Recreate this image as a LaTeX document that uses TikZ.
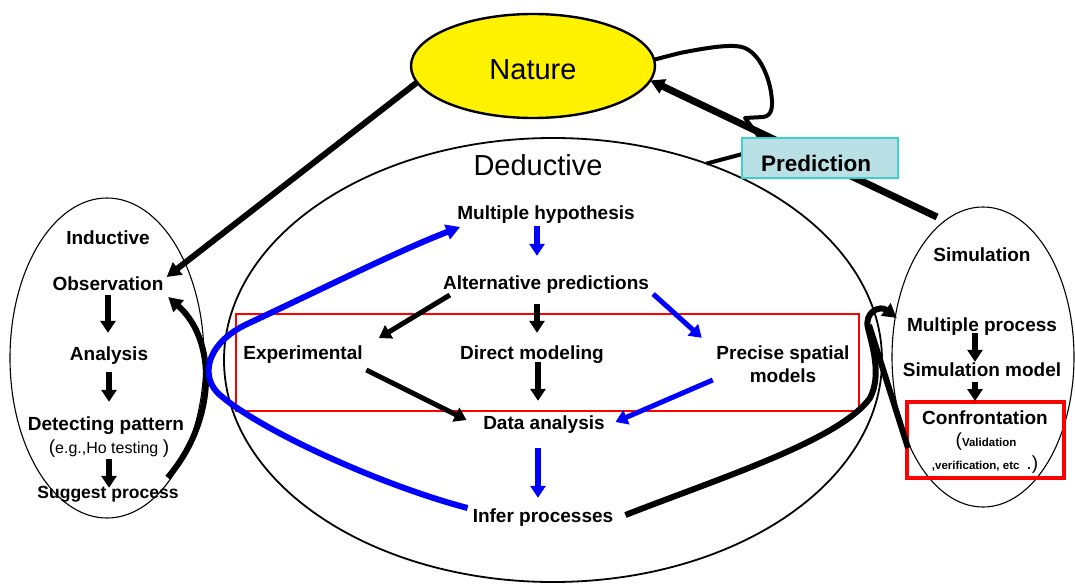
\documentclass[tikz,border=0pt]{standalone}
\usepackage{fontspec}
\setmainfont{Liberation Sans}
\usetikzlibrary{shapes.geometric,arrows.meta,calc}
\definecolor{predfill}{HTML}{B9E1E5}
\definecolor{predline}{HTML}{3FCFCF}
\definecolor{linkblue}{HTML}{0000FF}
\definecolor{framered}{HTML}{FF0000}
\begin{document}
\begin{tikzpicture}[x=1pt,y=-1pt,
  lbl/.style={font=\fontsize{19}{22}\selectfont\bfseries, inner sep=0pt, text height=13.6pt, text depth=0pt},
  bigtitle/.style={font=\fontsize{29}{32}\selectfont, inner sep=0pt},
  oval/.style={ellipse, draw, inner sep=0pt, outer sep=0pt},
  redframe/.style={draw=framered, inner sep=0pt, outer sep=0pt},
  blk/.style={line width=5.5pt, -{Triangle[length=12pt,width=15pt]}},
  blu/.style={blk, draw=linkblue, -{Triangle[length=12pt,width=15pt,fill=linkblue]}, color=linkblue},
  thickline/.style={line width=6pt, line join=round},
  tip/.style={-{Triangle[length=14pt,width=15pt]}}
]
\useasboundingbox (0,0) rectangle (1075,583);

% the three regions and the Nature oval
\node[oval, line width=1.8pt, minimum width=658pt, minimum height=444pt] (ded) at (553,360) {};
\node[oval, line width=1.1pt, minimum width=194pt, minimum height=320pt] (ind) at (107,358) {};
\node[oval, line width=1.1pt, minimum width=182pt, minimum height=300pt] (sim) at (983,357) {};
\node[oval, line width=2.4pt, fill=yellow, minimum width=244pt, minimum height=104pt,
      font=\fontsize{29}{32}\selectfont, text height=28pt, text depth=0pt] (nat) at (533,66) {Nature};

% red frames
\node[redframe, line width=2.2pt, minimum width=623pt, minimum height=97pt] (focus) at (547.5,362.5) {};
\node[redframe, line width=3.5pt, minimum width=157pt, minimum height=76pt] (confbox) at (985.5,440) {};

% titles
\node[bigtitle] (dedt) at (538,165) {Deductive};
\node[lbl] (indt) at (108,238) {Inductive};
\node[lbl] (simt) at (982,255) {Simulation};

% inductive column
\node[lbl] (obs) at (108,284) {Observation};
\node[lbl] (ana) at (109,354) {Analysis};
\node[lbl] (det) at (106,424) {Detecting pattern};
\node[inner sep=0pt, text height=11.5pt, text depth=0pt] (eg) at (109,448)
  {{\fontsize{19}{20}\selectfont(}{\fontsize{16}{18}\selectfont e.g.,Ho testing }{\fontsize{19}{20}\selectfont)}};
\node[lbl, font=\fontsize{17.5}{20}\selectfont\bfseries, text height=12.5pt] (sug) at (108,492) {Suggest process};

% deductive core
\node[lbl] (mh) at (546,213) {Multiple hypothesis};
\node[lbl] (alt) at (546,283) {Alternative predictions};
\node[lbl] (exp) at (303,353) {Experimental};
\node[lbl] (dm) at (532,353) {Direct modeling};
\node[lbl] (prec1) at (783,353) {Precise spatial};
\node[lbl] (prec2) at (783,376) {models};
\node[lbl] (da) at (544,423) {Data analysis};
\node[lbl] (inf) at (543,516) {Infer processes};

% simulation column
\node[lbl] (mp) at (982,325) {Multiple process};
\node[lbl] (sm) at (982,370) {Simulation model};
\node[lbl] (conft) at (985,418) {Confrontation};
\node[inner sep=0pt] (valid) at (986,442)
  {{\fontsize{19}{20}\selectfont(}{\fontsize{11.5}{13}\selectfont\bfseries Validation}};
\node[inner sep=0pt] (verif) at (985,465)
  {{\fontsize{11.5}{13}\selectfont\bfseries ,verification, etc}\hspace{7pt}{\fontsize{19}{20}\selectfont .)}};

% vertical step arrows
\draw[blk, shorten <=4.2pt, shorten >=14.2pt] (obs.south) -- (obs.south |- ana.north);
\draw[blk, shorten <=11.2pt, shorten >=15.2pt] (ana.south) -- (ana.south |- det.north);
\draw[blk, shorten <=5.2pt, shorten >=-2.2pt] (eg.south) -- (eg.south |- sug.north);
\draw[blu, shorten <=6.2pt, shorten >=20.2pt] ([xshift=-9pt]mh.south) -- ([xshift=-9pt]mh.south |- alt.north);
\draw[blk, shorten <=14.2pt, shorten >=13.2pt] ([xshift=-9pt]alt.south) -- ([xshift=-9pt]alt.south |- dm.north);
\draw[blk, shorten <=2.2pt, shorten >=15.2pt] ([xshift=6pt]dm.south) -- ([xshift=6pt]dm.south |- da.north);
\draw[blu, shorten <=18.2pt, shorten >=11.2pt] ([xshift=-6pt]da.south) -- ([xshift=-6pt]da.south |- inf.north);
\draw[blk, shorten <=1.2pt, shorten >=1.2pt] ([xshift=-7pt]mp.south) -- ([xshift=-7pt]mp.south |- sm.north);
\draw[blk, shorten <=5.2pt, shorten >=1pt] ([xshift=-7pt]sm.south) -- ([xshift=-7pt]sm.south |- confbox.north);

% diagonal arrows in the deductive core
\draw[blk, line width=5pt] ($(alt.south west)+(7,5)$) -- ($(exp.north east)+(16,-8)$);
\draw[blu, line width=5pt] ($(alt.south east)+(4,4)$) -- ($(prec1.north west)+(-14.5,-8.2)$);
\draw[blk, line width=5pt] ($(exp.south east)+(3.5,10)$) -- ($(da.west)+(-16.5,-3)$);
\draw[blu, line width=5pt] ($(prec1.south west)+(-3.5,20)$) -- ($(da.east)+(10.5,-1)$);

% Nature to observation, simulation back to Nature
\draw[thickline, tip] (nat.188) -- ($(obs.north east)+(3,0)$);
\draw[thickline, line width=7pt, tip] ($(sim.north)+(-46,10)$) -- (nat.-7);

% deductive loop through the prediction up to Nature
\draw[line width=4pt, line join=round] (ded.52) -- (750,152) -- (760,138) -- (745,118) -- (763,117)
  .. controls (773,116) and (773,105) .. (771,92)
  .. controls (768,75) and (760,55) .. (745,48)
  .. controls (735,44) and (715,46) .. (680,53) -- (nat.3);

% suggest process back to observation
\draw[thickline, tip] ($(sug.north east)+(-11,-8)$) .. controls (217,420) and (217,340) .. ($(obs.south east)+(4.5,6)$);

% infer processes back to multiple hypothesis
\draw[thickline, draw=linkblue, -{Triangle[length=14pt,width=15pt,fill=linkblue]}, color=linkblue]
  ($(inf.west)+(-5,-8)$) .. controls (380,485) and (260,430) .. (220,395)
  .. controls (200,378) and (205,345) .. (245,325)
  .. controls (320,290) and (400,250) .. ($(mh.south west)+(3,7)$);

% infer processes to the simulation
\draw[thickline, tip] ($(inf.east)+(12,-1)$) .. controls (720,478) and (840,440) .. (870,398)
  .. controls (882,375) and (872,345) .. (868,328)
  .. controls (864,312) and (880,305) .. ($(mp.west)+(-10,-7)$);
\coordinate (merge) at (869,325);
\draw[thickline] ($(confbox.west)+(1,8)$) -- (merge);

% prediction label box
\node[draw=predline, fill=predfill, line width=1.5pt, minimum width=156pt, minimum height=40pt] (pred) at (820,158) {};
\node[font=\fontsize{22.5}{25}\selectfont\bfseries, inner sep=0pt] (predlbl) at (816,163) {Prediction};
\end{tikzpicture}
\end{document}
